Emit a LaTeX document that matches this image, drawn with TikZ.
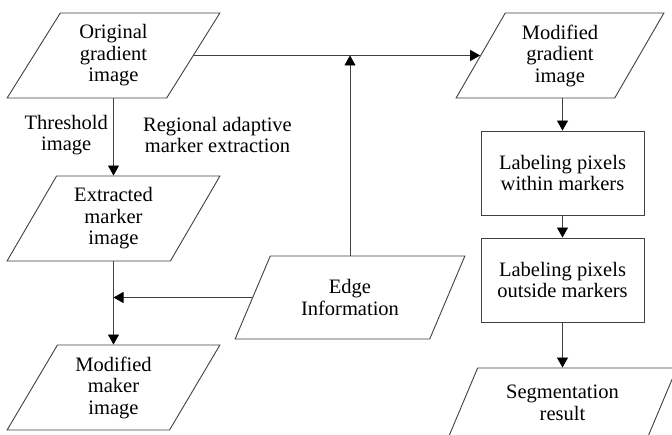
\documentclass[tikz,border=0pt]{standalone}
\usepackage{fontspec}
\setmainfont{Liberation Serif}
\usetikzlibrary{shapes.geometric,arrows.meta}
\begin{document}
\begin{tikzpicture}[x=1pt,y=-1pt,
  every node/.style={font=\fontsize{20.5}{21.5}\selectfont, text=black, align=center},
  para/.style={draw=black!75, line width=0.9pt, trapezium, trapezium stretches=true,
    trapezium left angle=61, trapezium right angle=119, inner sep=0pt,
    minimum height=85pt},
  procbox/.style={draw=black!75, line width=0.9pt, rectangle, inner sep=0pt,
    minimum width=163pt, minimum height=84pt},
  lbl/.style={inner sep=0pt},
  conn/.style={draw=black!75, line width=0.9pt},
  arr/.style={conn, -{Triangle[length=10pt,width=11pt,color=black]}}
]
\useasboundingbox (0,0) rectangle (672,435);
\clip (0,0) rectangle (672,435);
% left column
\node[para, minimum width=213pt] (orig) at (113.5,55.5) {Original\\gradient\\image};
\node[para, minimum width=213pt] (extr) at (113.5,218.5) {Extracted\\marker\\image};
\node[para, minimum width=213pt] (modm) at (113.5,387.5) {Modified\\maker\\image};
% edge information
\node[para, minimum width=230pt, minimum height=83pt, trapezium left angle=59, trapezium right angle=121] (edge) at (350,297.5) {Edge\\Information};
% right column
\node[para, minimum width=208pt] (modg) at (560,55.5) {Modified\\gradient\\image};
\node[procbox] (lab1) at (562.5,173) {Labeling pixels\\within markers};
\node[procbox] (lab2) at (562.5,280) {Labeling pixels\\outside markers};
\node[para, minimum width=229pt, minimum height=70pt] (seg) at (562.5,403) {Segmentation\\result};
% labels
\node[lbl, anchor=east] (thr) at (108,135) {Threshold\\image};
\node[lbl, anchor=west] (reg) at (143,135) {Regional adaptive\\marker extraction};
% connectors
\coordinate (oS) at (orig.center |- orig.bottom side);
\coordinate (eN) at (extr.center |- extr.top side);
\coordinate (eS) at (extr.center |- extr.bottom side);
\coordinate (mN) at (modm.center |- modm.top side);
\coordinate (edN) at (edge.center |- edge.top side);
\coordinate (j1) at (edN |- orig.east);
\coordinate (j2) at (eS |- edge.west);
\draw[arr] (oS) -- (eN);
\draw[arr] (eS) -- (mN);
\draw[arr] (orig.east) -- (modg.west);
\draw[arr] (edN) -- (j1);
\draw[arr] (edge.west) -- (j2);
\coordinate (gS) at (lab1.north |- modg.bottom side);
\draw[arr] (gS) -- (lab1.north);
\draw[arr] (lab1.south) -- (lab2.north);
\coordinate (sN) at (lab2.south |- seg.top side);
\draw[arr] (lab2.south) -- (sN);
\end{tikzpicture}
\end{document}
